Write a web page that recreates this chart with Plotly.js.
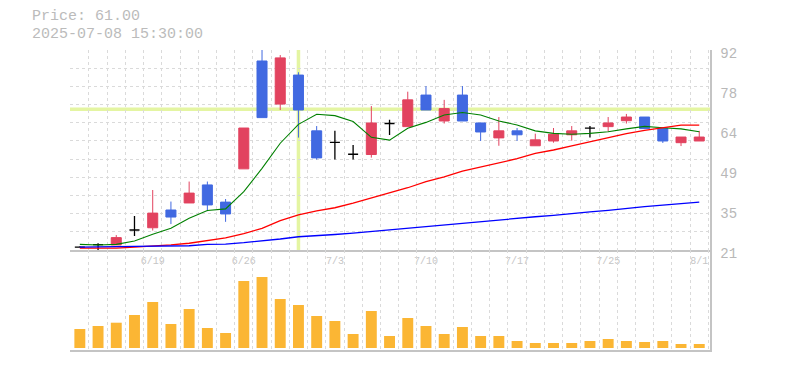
<!DOCTYPE html>
<html>
<head>
<meta charset="utf-8">
<script src="https://cdn.plot.ly/plotly-3.0.1.min.js"></script>
<style>html,body{margin:0;padding:0;background:#fff;}#chart{width:785px;height:370px;}</style>
</head>
<body>
<div id="chart"></div>
<script>
// ---- data ----
const dates = ['6/13','6/16','6/17','6/18','6/19','6/20','6/23','6/24','6/25','6/26','6/27','6/30','7/1','7/2','7/3','7/4','7/7','7/8','7/9','7/10','7/11','7/14','7/15','7/16','7/17','7/18','7/22','7/23','7/24','7/25','7/28','7/29','7/30','7/31','8/1'];
const openP  = [22.0,22.9,22.8,28.1,28.9,35.2,37.7,44.1,38.0,49.8,88.1,72.8,83.1,63.3,59.2,55.0,54.9,65.9,64.8,76.0,66.8,76.0,66.1,60.8,63.3,58.0,59.7,61.9,64.3,64.8,66.9,68.2,64.2,59.1,59.7];
const highP  = [22.3,23.4,26.3,33.1,42.3,38.2,45.3,45.3,39.1,64.3,92.0,90.2,84.1,65.0,63.3,58.3,72.1,67.2,77.2,79.2,74.3,79.2,66.1,68.2,64.3,62.3,64.3,65.0,65.0,68.2,69.3,68.2,64.2,61.1,63.3];
const lowP   = [21.8,21.0,22.8,26.0,27.9,30.2,37.7,34.8,31.0,49.8,68.0,70.7,60.9,53.1,53.1,53.1,53.8,61.8,64.8,70.7,65.9,66.8,59.7,58.0,59.7,58.0,59.1,59.8,60.9,63.0,65.9,64.1,59.0,57.9,59.7];
const closeP = [22.0,22.9,25.4,28.1,34.1,32.7,41.2,37.0,33.8,64.3,68.0,89.2,70.7,53.7,59.2,55.0,66.1,65.9,74.3,70.7,71.2,66.8,62.9,63.3,61.9,60.1,62.1,63.3,64.3,66.1,68.2,64.1,59.7,61.1,61.1];
const volume = [190,220,253,330,460,240,390,200,150,670,710,490,430,320,270,140,370,120,300,220,140,210,120,120,70,50,50,50,70,90,70,60,70,40,40];
const ma5  = [23.0,22.8,23.0,24.2,26.6,28.7,32.3,35.0,35.6,41.7,50.0,58.9,65.6,69.2,68.7,66.6,61.0,60.0,64.2,66.3,68.9,69.8,68.9,66.8,65.4,63.3,62.4,62.1,62.4,63.0,64.0,64.9,64.4,64.0,63.0];
const ma25 = [21.7,21.6,21.7,22.0,22.3,22.8,23.4,24.3,25.3,26.8,28.7,31.4,33.5,34.9,36.0,37.6,39.4,41.1,43.1,45.3,47.0,49.0,50.5,52.0,53.4,55.3,56.5,58.0,59.5,61.0,62.3,63.5,64.4,65.3,65.3];
const ma75 = [22.0,22.0,22.2,22.3,22.4,22.4,22.5,23.0,23.1,23.6,24.2,24.9,25.7,26.0,26.5,27.0,27.6,28.2,28.8,29.3,30.0,30.6,31.1,31.7,32.3,32.8,33.3,33.8,34.5,35.1,35.8,36.4,36.9,37.5,38.0];
const xLabelDates = ['6/19','6/26','7/3','7/10','7/17','7/25','8/1'];
const yTickVals = [21, 35.2, 49.4, 63.6, 77.8, 92];
const yTickText = ['21','35','49','64','78','92'];
const priceText = 'Price: 61.00';
const timeText = '2025-07-08 15:30:00';
const crossIndex = 12;
const crossPrice = 71;

// ---- build ----
const idx = dates.map((d, i) => i);
const isDoji = idx.map(i => openP[i] === closeP[i]);
const pick = (arr, want) => idx.filter(i => isDoji[i] === want).map(i => arr[i]);
const labelIdx = xLabelDates.map(d => dates.indexOf(d));

const RED = '#e2435f', BLUE = '#4169e1';
const GRID = '#dadada';
const AXL = '#c4c4c4';

const traces = [
  {type:'scatter', mode:'lines', x:idx, y:ma5, line:{color:'#008000', width:1.1}, xaxis:'x', yaxis:'y'},
  {type:'scatter', mode:'lines', x:idx, y:ma25, line:{color:'#ff0000', width:1.3}, xaxis:'x', yaxis:'y'},
  {type:'scatter', mode:'lines', x:idx, y:ma75, line:{color:'#0000ff', width:1.3}, xaxis:'x', yaxis:'y'},
  {type:'candlestick', x:pick(idx,false), open:pick(openP,false), high:pick(highP,false), low:pick(lowP,false), close:pick(closeP,false),
   increasing:{line:{color:RED, width:1}, fillcolor:RED}, decreasing:{line:{color:BLUE, width:1}, fillcolor:BLUE},
   whiskerwidth:0, xaxis:'x', yaxis:'y'},
  {type:'candlestick', x:pick(idx,true), open:pick(openP,true), high:pick(highP,true), low:pick(lowP,true), close:pick(closeP,true),
   increasing:{line:{color:'#000', width:1.3}, fillcolor:'#000'}, decreasing:{line:{color:'#000', width:1.3}, fillcolor:'#000'},
   whiskerwidth:0, xaxis:'x', yaxis:'y'},
  {type:'bar', x:idx, y:volume, width:0.6, marker:{color:'#fbb634', line:{width:0}}, xaxis:'x2', yaxis:'y2'}
];

const xr = [-0.54, 34.59];
const layout = {
  width:785, height:370,
  margin:{l:70, r:75, t:50, b:20, pad:0},
  paper_bgcolor:'#ffffff', plot_bgcolor:'#ffffff',
  showlegend:false, hovermode:false,
  boxgap:0.45, boxgroupgap:0,
  font:{family:'Liberation Mono, monospace', color:'#bbbbbb'},
  xaxis:{domain:[0,1], anchor:'y', range:xr, tickmode:'array', tickvals:labelIdx, ticktext:xLabelDates,
    rangeslider:{visible:false},
    showgrid:false, ticks:'outside', ticklen:0, showline:true, linecolor:AXL, linewidth:1.5, zeroline:false,
    tickfont:{size:10, color:'#c6c6c6', family:'Liberation Mono, monospace'}, ticklabelstandoff:0,
    minor:{tickmode:'linear', tick0:-0.5, dtick:1, showgrid:true, gridcolor:GRID, griddash:'3px,3px', gridwidth:1, ticks:'inside', ticklen:0},
    fixedrange:true},
  yaxis:{domain:[1/3,1], anchor:'x', side:'right', range:[21,92], tickmode:'array', tickvals:yTickVals, ticktext:yTickText,
    showgrid:false, ticks:'outside', ticklen:0, showline:true, linecolor:AXL, linewidth:1.5, zeroline:false,
    tickfont:{size:14, color:'#b8b8b8', family:'Liberation Mono, monospace'}, ticklabelstandoff:6, ticklabelshift:3,
    minor:{tickmode:'linear', tick0:21, dtick:6.4545, showgrid:true, gridcolor:GRID, griddash:'3px,3px', gridwidth:1, ticks:'inside', ticklen:0},
    fixedrange:true},
  xaxis2:{domain:[0,1], anchor:'y2', range:xr, tickmode:'linear', tick0:-0.5, dtick:1, showticklabels:false, ticks:'',
    showgrid:true, gridcolor:GRID, griddash:'3px,3px', gridwidth:1, showline:true, linecolor:AXL, linewidth:1.5, zeroline:false, fixedrange:true},
  yaxis2:{domain:[0,1/3], anchor:'x2', side:'right', range:[-20,980], showgrid:false, showticklabels:false, ticks:'',
    showline:true, linecolor:AXL, linewidth:1.5, zeroline:false, fixedrange:true},
  shapes:[
    {type:'line', xref:'paper', x0:0, x1:1, yref:'y', y0:crossPrice, y1:crossPrice, line:{color:'#e4f5a2', width:3.5}, layer:'between'},
    {type:'line', xref:'x', x0:crossIndex, x1:crossIndex, yref:'paper', y0:1/3, y1:1, line:{color:'#e4f5a2', width:3.5}, layer:'between'}
  ],
  annotations:[
    {xref:'paper', yref:'paper', x:-0.0625, y:1.1117, xanchor:'left', yanchor:'middle', showarrow:false, text:priceText,
     font:{size:15, color:'#bbbbbb', family:'Liberation Mono, monospace'}},
    {xref:'paper', yref:'paper', x:-0.0625, y:1.0533, xanchor:'left', yanchor:'middle', showarrow:false, text:timeText,
     font:{size:15, color:'#bbbbbb', family:'Liberation Mono, monospace'}}
  ]
};

Plotly.newPlot('chart', traces, layout, {displayModeBar:false, staticPlot:true});
</script>
</body>
</html>
